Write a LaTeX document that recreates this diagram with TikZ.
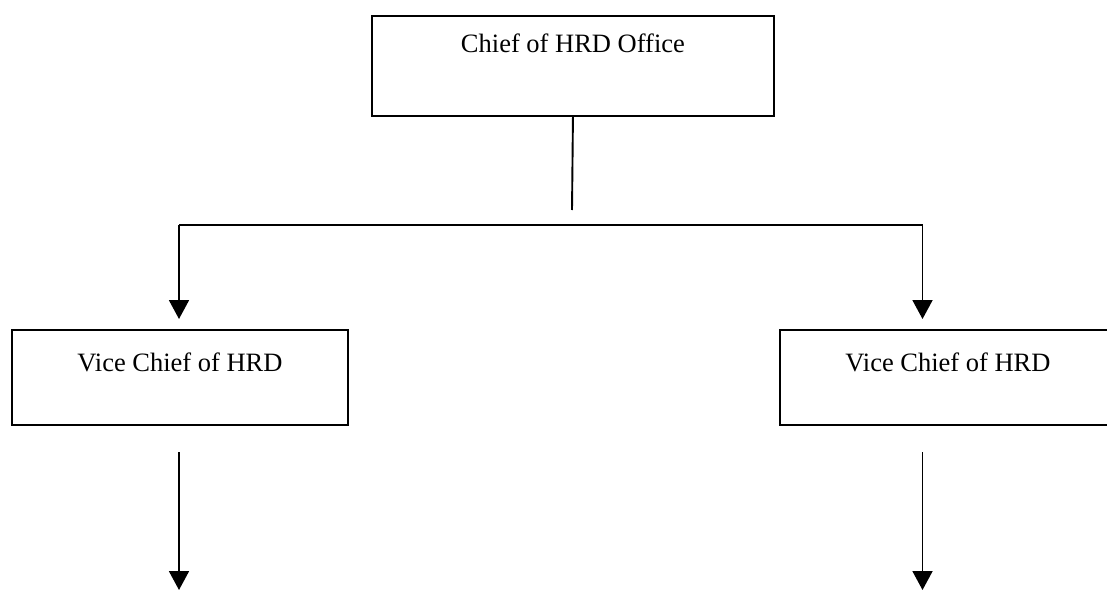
\documentclass[tikz,border=0pt]{standalone}
\usepackage{fontspec}
\setmainfont{Liberation Serif}
\usetikzlibrary{arrows.meta}
\begin{document}
\begin{tikzpicture}[x=1pt,y=-1pt,
  box/.style={draw, line width=1.9pt, inner sep=0pt, anchor=north west,
    font=\fontsize{26.5}{30}\selectfont},
  conn/.style={line width=1.9pt},
  arr/.style={conn, -{Triangle[width=20pt,length=19pt]}}]
\useasboundingbox (0,0) rectangle (1107,591);
\node[box, minimum width=402pt, text height=37pt, text depth=63pt] (chief) at (371,15) {Chief of HRD Office};
\node[box, minimum width=336pt, text height=42pt, text depth=53pt] (vleft) at (11,329) {Vice Chief of HRD};
\node[box, minimum width=336pt, text height=42pt, text depth=53pt] (vright) at (779,329) {Vice Chief of HRD};
\coordinate (stemend) at (572,210);
\coordinate (hl) at (179,225);
\coordinate (hr) at (922.5,225);
\coordinate (tl) at (179,319);
\coordinate (tr) at (922.5,319);
\coordinate (ls) at (179,452);
\coordinate (le) at (179,590);
\coordinate (rs) at (922.5,452);
\coordinate (re) at (922.5,590);
\draw[conn] (chief.south) -- (stemend);
\draw[conn] (hl) -- (hr);
\draw[arr] (hl) -- (tl);
\draw[arr] (hr) -- (tr);
\draw[arr] (ls) -- (le);
\draw[arr] (rs) -- (re);
\end{tikzpicture}
\end{document}
